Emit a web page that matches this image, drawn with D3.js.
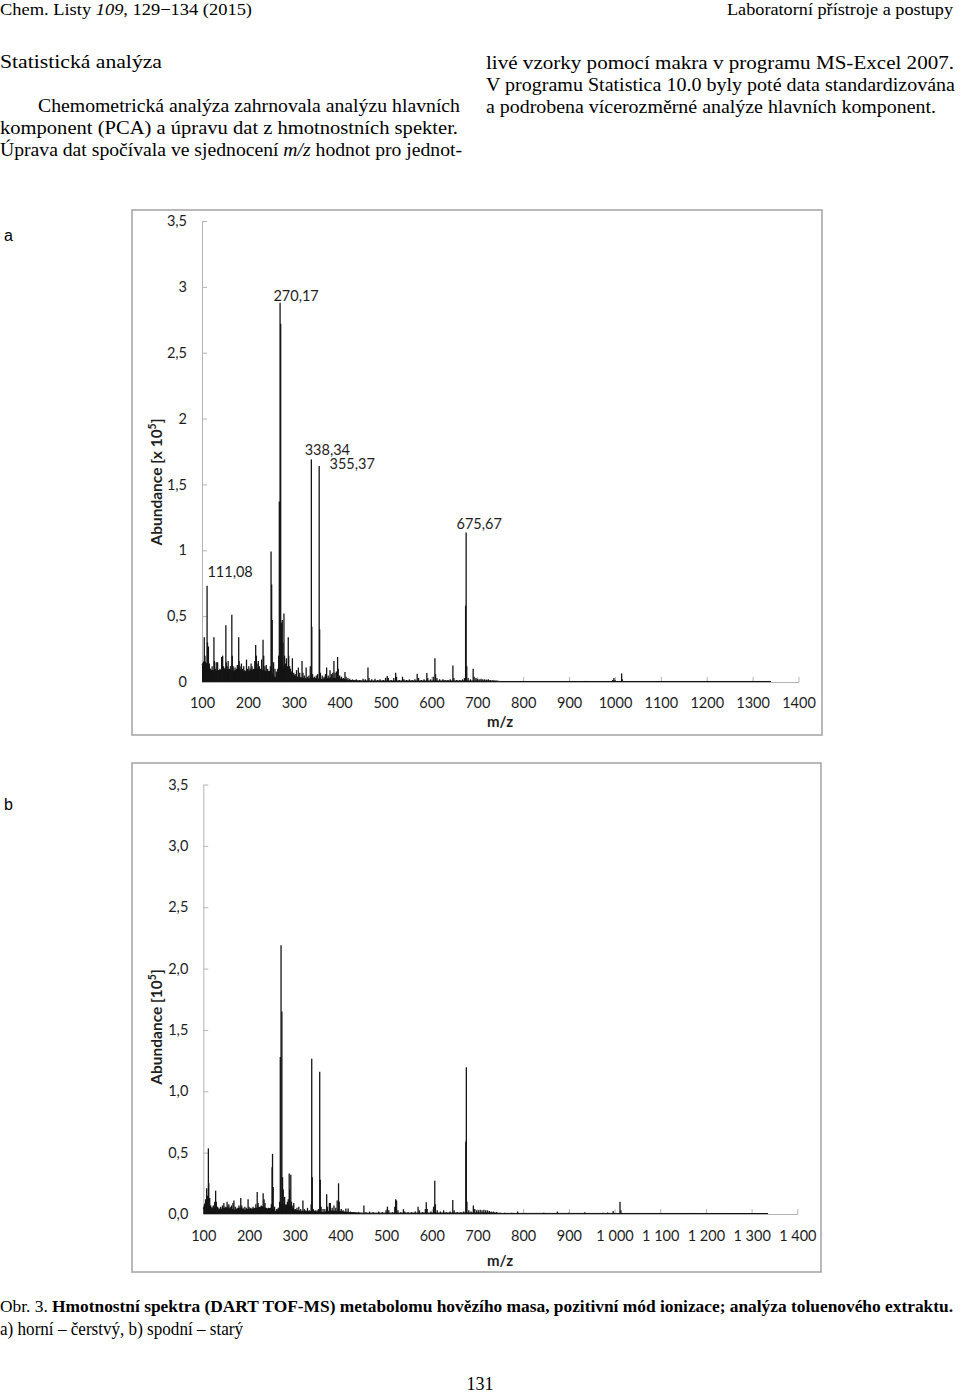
<!DOCTYPE html>
<html><head><meta charset="utf-8">
<script src="https://cdn.jsdelivr.net/npm/d3@7"></script>
<style>body{margin:0;background:#fff} svg{display:block}</style>
</head><body>
<script>
// ---------- DATA ----------
const xTicks = [100,200,300,400,500,600,700,800,900,1000,1100,1200,1300,1400];
const yTicks = [0,0.5,1,1.5,2,2.5,3,3.5];
const xLabelsA = ["100","200","300","400","500","600","700","800","900","1000","1100","1200","1300","1400"];
const xLabelsB = ["100","200","300","400","500","600","700","800","900","1 000","1 100","1 200","1 300","1 400"];
const yLabelsA = ["0","0,5","1","1,5","2","2,5","3","3,5"];
const yLabelsB = ["0,0","0,5","1,0","1,5","2,0","2,5","3,0","3,5"];

// peaks [m/z, abundance x1e5] — spectrum a (fresh)
const peaksA = [[105,0.34],[106.5,0.2],[108,0.12],[111.08,0.73],[112,0.3],[114,0.27],[116,0.14],[118,0.1],[120,0.08],[122,0.12],[126,0.34],[127,0.16],[129,0.1],[131,0.15],[134,0.15],[136,0.09],[139,0.1],[142.8,0.19],[145,0.2],[147,0.12],[150,0.1],[152,0.43],[153,0.15],[155,0.12],[157,0.16],[160,0.1],[162,0.12],[165,0.51],[166,0.2],[168,0.12],[170,0.09],[172,0.11],[175,0.1],[177,0.13],[180,0.34],[181,0.16],[183,0.12],[186,0.14],[188,0.1],[191,0.12],[193,0.09],[197,0.17],[199,0.1],[202,0.12],[205,0.1],[207,0.14],[209,0.12],[212,0.1],[215,0.16],[217,0.28],[218.5,0.2],[220,0.14],[222.7,0.16],[225,0.12],[228,0.1],[230,0.17],[233,0.32],[234.5,0.2],[237,0.12],[240,0.13],[243,0.1],[246,0.08],[249,0.12],[250.5,0.99],[251.8,0.74],[253,0.47],[256,0.15],[259,0.1],[262,0.08],[265,0.1],[267,0.2],[268.5,1.37],[270.17,2.88],[271.5,2.72],[273,0.45],[275,0.47],[276.5,0.3],[278.6,0.52],[280,0.2],[282,0.14],[284,0.18],[286,0.12],[288,0.34],[289,0.2],[291,0.12],[293,0.1],[295,0.08],[297,0.18],[300,0.07],[303,0.06],[306,0.09],[310,0.11],[313,0.07],[318,0.16],[320,0.07],[323,0.05],[327,0.11],[330,0.04],[333,0.05],[336,0.12],[338.34,1.69],[339.3,0.42],[341,0.06],[345,0.04],[349,0.05],[352,0.06],[355.37,1.64],[356.4,0.4],[358,0.07],[362,0.05],[366,0.04],[369,0.06],[371.6,0.11],[375,0.05],[379,0.09],[382,0.06],[385,0.07],[387.5,0.16],[390,0.07],[393,0.08],[395.5,0.19],[397,0.1],[400,0.05],[404,0.04],[408,0.03],[411.6,0.075],[414,0.04],[418,0.03],[422,0.025],[428,0.02],[436,0.02],[444,0.015],[451,0.025],[456,0.02],[461.7,0.11],[464,0.03],[470,0.02],[477,0.025],[483,0.015],[488,0.02],[495,0.015],[500,0.03],[503.8,0.045],[506,0.03],[512,0.015],[518,0.03],[522,0.07],[524,0.04],[530,0.015],[537,0.04],[540,0.02],[546,0.015],[552,0.02],[558,0.015],[564,0.02],[569,0.063],[572,0.03],[578,0.015],[584,0.02],[590,0.068],[592,0.03],[598,0.02],[604,0.04],[607.6,0.18],[609,0.06],[612,0.03],[618,0.02],[625,0.02],[630,0.015],[636,0.015],[641,0.02],[646.8,0.125],[649,0.03],[655,0.015],[662,0.015],[668,0.02],[672,0.03],[674.5,0.58],[675.67,1.135],[677,0.12],[680,0.03],[685,0.02],[691,0.1],[693,0.04],[697,0.03],[700,0.025],[704,0.02],[708,0.025],[712,0.02],[716,0.02],[720,0.018],[724,0.02],[728,0.015],[734,0.012],[742,0.008],[936,0.008],[995,0.015],[997.6,0.03],[1000,0.015],[1014.5,0.065],[1016,0.02]];
// dense noise floor of spectrum a
const floorA = [[100,0.13],[105,0.16],[110,0.14],[115,0.11],[120,0.09],[130,0.08],[140,0.09],[150,0.1],[160,0.09],[170,0.08],[180,0.1],[190,0.08],[200,0.08],[210,0.09],[220,0.1],[230,0.09],[240,0.08],[250,0.08],[255,0.05],[260,0.03],[265,0.05],[270,0.13],[275,0.13],[280,0.1],[290,0.08],[300,0.05],[310,0.035],[320,0.03],[330,0.02],[340,0.03],[360,0.02],[380,0.03],[400,0.025],[420,0.012],[450,0.008],[600,0.008],[740,0.008],[750,0.004],[1340,0.004]];
const labelsA = [[111.08,0.73,"111,08"],[270.17,2.88,"270,17"],[338.34,1.69,"338,34"],[355.37,1.64,"355,37"],[675.67,1.135,"675,67"]];

// spectrum b (old)
const peaksB = [[103,0.08],[105,0.12],[107.4,0.21],[109,0.15],[111.08,0.535],[112,0.25],[114,0.13],[116,0.07],[119,0.06],[122,0.07],[125,0.1],[127,0.19],[128.5,0.1],[131,0.06],[134,0.05],[138,0.06],[142,0.07],[145,0.09],[148,0.06],[152,0.1],[154,0.07],[156,0.08],[159,0.06],[162,0.07],[165,0.09],[167,0.11],[170,0.06],[174,0.05],[178,0.07],[182,0.13],[184,0.07],[187,0.05],[191,0.06],[194,0.05],[198,0.12],[200,0.06],[204,0.05],[209,0.06],[212,0.05],[215,0.08],[218,0.18],[220,0.09],[224,0.06],[227,0.07],[231,0.17],[233,0.12],[235,0.09],[238,0.05],[242,0.05],[246,0.04],[249,0.08],[250.5,0.38],[251.5,0.49],[253,0.22],[256,0.06],[260,0.04],[264,0.05],[267,0.1],[268.5,1.28],[270.17,2.19],[272,1.65],[273.5,0.3],[275,0.2],[278,0.14],[281,0.08],[284,0.1],[286,0.12],[288,0.33],[289,0.2],[291.5,0.32],[293,0.1],[296,0.07],[298,0.09],[302,0.04],[305,0.05],[309,0.06],[313,0.04],[318,0.11],[321,0.04],[324,0.03],[328,0.05],[332,0.03],[336,0.08],[337.3,1.265],[338.5,0.3],[341,0.04],[345,0.03],[349,0.03],[352,0.04],[354.8,1.16],[356,0.28],[358,0.06],[362,0.04],[366,0.04],[370,0.16],[372,0.06],[376,0.09],[378,0.09],[382,0.05],[386,0.07],[390,0.05],[393,0.11],[396,0.25],[397.5,0.1],[402,0.04],[406,0.03],[412,0.045],[417,0.045],[422,0.02],[430,0.015],[440,0.015],[451.5,0.07],[456,0.015],[464,0.02],[472,0.015],[484,0.02],[492,0.015],[500,0.03],[503,0.06],[506,0.03],[514,0.015],[519,0.06],[521,0.12],[523,0.11],[526,0.03],[532,0.015],[538,0.04],[541,0.02],[548,0.015],[556,0.015],[564,0.02],[570,0.06],[573,0.03],[580,0.015],[586,0.04],[588,0.095],[590,0.04],[598,0.02],[604,0.06],[606.6,0.27],[608,0.08],[612,0.03],[619,0.02],[626,0.03],[632,0.015],[640,0.02],[646,0.115],[649,0.03],[656,0.015],[664,0.015],[670,0.02],[674.5,0.59],[675.67,1.195],[677,0.1],[681,0.03],[686,0.02],[691,0.07],[694,0.04],[698,0.03],[702,0.03],[706,0.035],[710,0.03],[714,0.035],[718,0.03],[722,0.03],[726,0.025],[730,0.02],[735,0.02],[742,0.015],[750,0.01],[760,0.01],[775,0.01],[788,0.02],[800,0.008],[830,0.008],[845,0.01],[875,0.02],[900,0.01],[935,0.015],[975,0.01],[985,0.012],[997,0.025],[1012,0.1],[1014,0.03]];
const floorB = [[100,0.04],[103,0.08],[106,0.1],[110,0.12],[113,0.08],[118,0.04],[125,0.05],[130,0.03],[140,0.04],[150,0.05],[160,0.04],[170,0.03],[180,0.05],[190,0.03],[200,0.04],[210,0.04],[220,0.05],[230,0.06],[240,0.04],[250,0.05],[258,0.02],[265,0.04],[270,0.08],[280,0.07],[290,0.07],[295,0.05],[300,0.03],[320,0.02],[340,0.02],[360,0.012],[380,0.025],[400,0.02],[420,0.012],[450,0.007],[740,0.009],[750,0.005],[1336,0.004]];

// ---------- LAYOUT ----------
const W = 960, H = 1393;
const svg = d3.select("body").append("svg").attr("width", W).attr("height", H)
  .style("background", "#fff");

const serif = "'Liberation Serif','Times New Roman',serif";
function ptext(x, y, parts, len, opts = {}) {
  const t = svg.append("text").attr("x", x).attr("y", y)
    .attr("font-family", serif).attr("font-size", opts.size || 18).attr("fill", "#000");
  if (opts.anchor) t.attr("text-anchor", opts.anchor);
  if (len) t.attr("textLength", len).attr("lengthAdjust", "spacingAndGlyphs");
  parts.forEach(p => {
    const s = t.append("tspan").text(p.t);
    if (p.i) s.attr("font-style", "italic");
    if (p.b) s.attr("font-weight", "bold");
  });
  return t;
}
// header
ptext(0, 15, [{t:"Chem. Listy "},{t:"109",i:1},{t:", 129−134 (2015)"}], 252, {size:16.5});
ptext(727, 15, [{t:"Laboratorní přístroje a postupy"}], 226, {size:16.5});
ptext(0, 68, [{t:"Statistická analýza"}], 162);
ptext(38, 112, [{t:"Chemometrická analýza zahrnovala analýzu hlavních"}], 422);
ptext(0, 134, [{t:"komponent (PCA) a úpravu dat z hmotnostních spekter."}], 458);
ptext(0, 156, [{t:"Úprava dat spočívala ve sjednocení "},{t:"m/z",i:1},{t:" hodnot pro jednot-"}], 462);
ptext(486, 69, [{t:"livé vzorky pomocí makra v programu MS-Excel 2007."}], 468);
ptext(486, 91, [{t:"V programu Statistica 10.0 byly poté data standardizována"}], 469);
ptext(486, 113, [{t:"a podrobena vícerozměrné analýze hlavních komponent."}], 450);
// caption
ptext(0, 1312, [{t:"Obr. 3. "},{t:"Hmotnostní spektra (DART TOF-MS) metabolomu hovězího masa, pozitivní mód ionizace; analýza toluenového extraktu.",b:1}], 953, {size:16});
ptext(0, 1335, [{t:"a) horní – čerstvý, b) spodní – starý"}], 243);
ptext(480, 1390, [{t:"131"}], null, {anchor:"middle"});

const sans = "Lato, 'Open Sans', sans-serif";
svg.append("text").attr("x", 4).attr("y", 241).attr("font-family","'Liberation Sans',Arial,sans-serif").attr("font-size",16).text("a");
svg.append("text").attr("x", 4).attr("y", 810).attr("font-family","'Liberation Sans',Arial,sans-serif").attr("font-size",16).text("b");

function chart(cfg) {
  const g = svg.append("g");
  g.append("rect").attr("x", cfg.frame[0]).attr("y", cfg.frame[1])
    .attr("width", cfg.frame[2]).attr("height", cfg.frame[3])
    .attr("fill", "#fff").attr("stroke", "#a8a8a8").attr("stroke-width", 1.6);
  const x = d3.scaleLinear().domain([100, 1400]).range(cfg.xr);
  const y = d3.scaleLinear().domain([0, 3.5]).range(cfg.yr);

  const ya = d3.axisLeft(y).tickValues(yTicks).tickFormat((d, i) => cfg.yLabels[i])
    .tickSizeInner(-5).tickSizeOuter(0).tickPadding(15);
  const yg = g.append("g").attr("transform", `translate(${cfg.xr[0]},0)`).call(ya);
  const xa = d3.axisBottom(x).tickValues(xTicks).tickFormat((d, i) => cfg.xLabels[i])
    .tickSizeInner(-5).tickSizeOuter(0).tickPadding(cfg.xpad);
  const xg = g.append("g").attr("transform", `translate(0,${cfg.yr[0]})`).call(xa);
  [yg, xg].forEach(a => {
    a.select(".domain").attr("stroke", "#b4b4b4");
    a.selectAll(".tick line").attr("stroke", "#b4b4b4");
    a.selectAll(".tick text").attr("font-family", sans).attr("font-size", 14.5).attr("fill", "#1e1e1e");
  });

  // noise floor
  const area = d3.area().x(d => x(d[0])).y0(y(0)).y1(d => y(d[1]));
  g.append("path").datum(cfg.floor).attr("d", area).attr("fill", "#111");
  const line = d3.line().x(d => x(d[0])).y(d => y(d[1]));
  g.append("path").datum(cfg.floor).attr("d", line).attr("fill", "none").attr("stroke", "#111").attr("stroke-width", 1);
  // peaks
  g.selectAll("line.pk").data(cfg.peaks).join("line").attr("class", "pk")
    .attr("x1", d => x(d[0])).attr("x2", d => x(d[0]))
    .attr("y1", y(0)).attr("y2", d => y(d[1]))
    .attr("stroke", "#151515").attr("stroke-width", 1.3);

  // peak labels
  if (cfg.labels) {
    g.selectAll("text.pl").data(cfg.labels).join("text").attr("class", "pl")
      .attr("x", (d, i) => x(d[0]) + cfg.labelOff[i][0])
      .attr("y", (d, i) => y(d[1]) + cfg.labelOff[i][1])
      .attr("text-anchor", "middle")
      .attr("font-family", sans).attr("font-size", 14.5).attr("fill", "#1e1e1e")
      .text(d => d[2]);
  }
  // axis titles
  g.append("text").attr("x", cfg.mz[0]).attr("y", cfg.mz[1]).attr("text-anchor", "middle")
    .attr("font-family", sans).attr("font-weight", "bold").attr("font-size", 15).attr("fill", "#1e1e1e")
    .text("m/z");
  const yt = g.append("text").attr("transform", `translate(${cfg.yt[0]},${cfg.yt[1]}) rotate(-90)`)
    .attr("text-anchor", "middle").attr("font-family", sans).attr("font-weight", "bold")
    .attr("font-size", 15.5).attr("fill", "#1e1e1e");
  cfg.ytitle.forEach(p => {
    const s = yt.append("tspan").text(p.t);
    if (p.sup) s.attr("baseline-shift", "super").attr("font-size", 10.5);
  });
}

chart({
  frame: [132, 210, 690, 525], xr: [202, 798.5], yr: [682, 221], xpad: 16,
  xLabels: xLabelsA, yLabels: yLabelsA, peaks: peaksA, floor: floorA, labels: labelsA,
  labelOff: [[23, -9], [16, -2], [16, -4], [33, 3], [13, -4]],
  mz: [500, 727], yt: [162, 482],
  ytitle: [{t:"Abundance [x 10"},{t:"5",sup:1},{t:"]"}]
});
chart({
  frame: [132, 763, 689, 509], xr: [203.3, 797.3], yr: [1214, 784.5], xpad: 17,
  xLabels: xLabelsB, yLabels: yLabelsB, peaks: peaksB, floor: floorB,
  mz: [500, 1266], yt: [162, 1027],
  ytitle: [{t:"Abundance [10"},{t:"5",sup:1},{t:"]"}]
});
</script>
</body></html>
